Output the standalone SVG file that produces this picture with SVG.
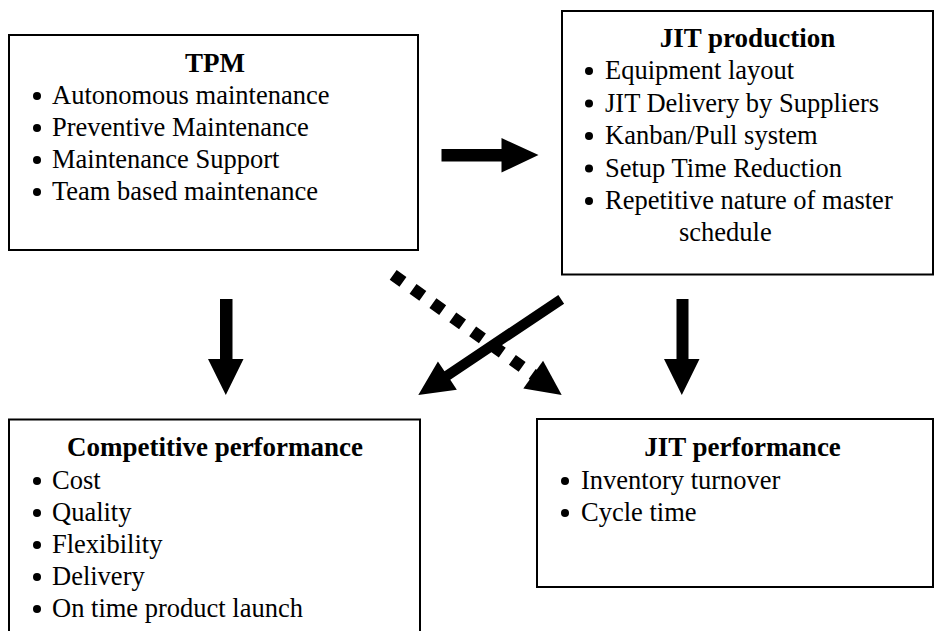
<svg xmlns="http://www.w3.org/2000/svg" width="936" height="631" viewBox="0 0 936 631">
  <style>
    .box { fill: #ffffff; stroke: #000000; stroke-width: 2; }
    .title { font-family: "Liberation Serif", "Times New Roman", serif; font-size: 27px; font-weight: bold; fill: #000; text-anchor: middle; }
    .item { font-family: "Liberation Serif", "Times New Roman", serif; font-size: 26.5px; fill: #000; }
    .dot { fill: #000; }
    .arrow { fill: #000; stroke: none; }
    .dash { fill: none; stroke: #000; stroke-width: 12; stroke-dasharray: 12 12.4; }
  </style>
  <rect width="936" height="631" fill="#ffffff"/>

  <!-- TPM -->
  <g id="tpm">
    <rect class="box" x="9" y="35" width="409" height="215"/>
    <text class="title" x="215" y="72">TPM</text>
    <circle class="dot" cx="37" cy="96" r="4"/>
    <text class="item" x="52" y="104">Autonomous maintenance</text>
    <circle class="dot" cx="37" cy="128" r="4"/>
    <text class="item" x="52" y="136">Preventive Maintenance</text>
    <circle class="dot" cx="37" cy="160" r="4"/>
    <text class="item" x="52" y="168">Maintenance Support</text>
    <circle class="dot" cx="37" cy="192" r="4"/>
    <text class="item" x="52" y="200">Team based maintenance</text>
  </g>

  <!-- JIT production -->
  <g id="jit-production">
    <rect class="box" x="562" y="11" width="371" height="263.5"/>
    <text class="title" x="747.5" y="47">JIT production</text>
    <circle class="dot" cx="589" cy="71" r="4"/>
    <text class="item" x="605" y="79">Equipment layout</text>
    <circle class="dot" cx="589" cy="103.5" r="4"/>
    <text class="item" x="605" y="111.5">JIT Delivery by Suppliers</text>
    <circle class="dot" cx="589" cy="136" r="4"/>
    <text class="item" x="605" y="144">Kanban/Pull system</text>
    <circle class="dot" cx="589" cy="168.5" r="4"/>
    <text class="item" x="605" y="176.5">Setup Time Reduction</text>
    <circle class="dot" cx="589" cy="201" r="4"/>
    <text class="item" x="605" y="209">Repetitive nature of master</text>
    <text class="item" x="679" y="240.5">schedule</text>
  </g>

  <!-- Competitive performance (runs past the lower edge) -->
  <g id="competitive-performance">
    <rect class="box" x="9" y="419.5" width="411" height="240"/>
    <text class="title" x="215" y="455.5">Competitive performance</text>
    <circle class="dot" cx="37" cy="481" r="4"/>
    <text class="item" x="52" y="489">Cost</text>
    <circle class="dot" cx="37" cy="513" r="4"/>
    <text class="item" x="52" y="521">Quality</text>
    <circle class="dot" cx="37" cy="545" r="4"/>
    <text class="item" x="52" y="553">Flexibility</text>
    <circle class="dot" cx="37" cy="577" r="4"/>
    <text class="item" x="52" y="585">Delivery</text>
    <circle class="dot" cx="37" cy="609" r="4"/>
    <text class="item" x="52" y="617">On time product launch</text>
  </g>

  <!-- JIT performance -->
  <g id="jit-performance">
    <rect class="box" x="537" y="419" width="396" height="168"/>
    <text class="title" x="742.5" y="455.5">JIT performance</text>
    <circle class="dot" cx="565" cy="481" r="4"/>
    <text class="item" x="581" y="489">Inventory turnover</text>
    <circle class="dot" cx="565" cy="513" r="4"/>
    <text class="item" x="581" y="521">Cycle time</text>
  </g>

  <!-- Connectors: block arrows -->
  <g id="connectors">
    <!-- TPM to JIT production -->
    <polygon class="arrow" points="441.5,149 501.5,149 501.5,138 538.5,155 501.5,172.5 501.5,161.5 441.5,161.5"/>
    <!-- TPM to competitive performance -->
    <polygon class="arrow" points="220,299 232.5,299 232.5,359 243.5,359 225.8,395 208,359 220,359"/>
    <!-- JIT production to JIT performance -->
    <polygon class="arrow" points="676.5,299 688.5,299 688.5,359 699.5,359 681.8,395 664,359 676.5,359"/>
    <!-- JIT production to competitive performance -->
    <g transform="translate(418.3,395) rotate(146.2)">
      <polygon class="arrow" points="0,0 -35,-17 -35,-5.2 -172,-5.2 -172,5.2 -35,5.2 -35,17"/>
    </g>
    <!-- TPM to JIT performance (dotted) -->
    <g transform="translate(561.7,395) rotate(35.5)">
      <line class="dash" x1="-207" y1="0" x2="-34" y2="0"/>
      <polygon class="arrow" points="0,0 -35,-17 -35,17"/>
    </g>
  </g>
</svg>
